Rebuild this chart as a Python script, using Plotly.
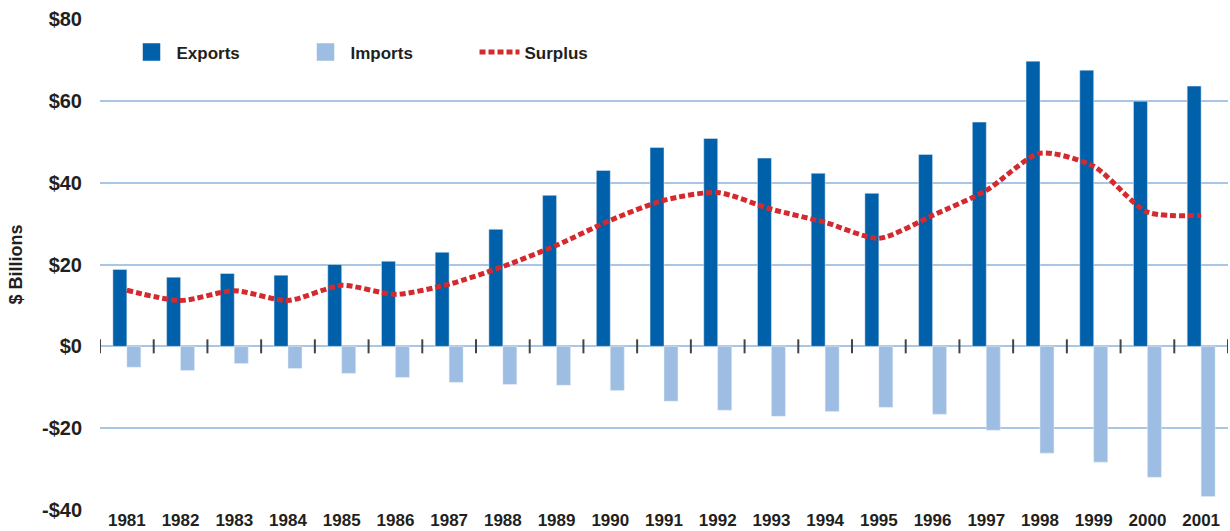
import plotly.graph_objects as go

years = [str(y) for y in range(1981, 2002)]
exports = [18.8, 16.9, 17.8, 17.4, 20.0, 20.8, 23.0, 28.6, 36.9, 43.0, 48.6,
           50.8, 46.0, 42.3, 37.4, 46.9, 54.8, 69.7, 67.5, 59.9, 63.6]
imports = [-5.1, -5.9, -4.2, -5.4, -6.6, -7.6, -8.8, -9.3, -9.5, -10.8, -13.4,
           -15.6, -17.1, -15.9, -14.9, -16.6, -20.5, -26.1, -28.3, -32.0, -36.7]
surplus = [13.7, 11.2, 13.6, 11.2, 14.9, 12.7, 15.2, 19.5, 24.7, 30.8, 35.7,
           37.6, 33.5, 30.3, 26.4, 32.0, 38.1, 47.2, 44.0, 32.8, 32.0]
y_ticks = [-40, -20, 0, 20, 40, 60, 80]
y_tick_text = ["-$40", "-$20", "$0", "$20", "$40", "$60", "$80"]
# category boundaries (between year groups) for the small tick marks on the $0 line
boundaries = [i - 0.5 for i in range(len(years) + 1)]
boundary_y = [0] * len(boundaries)

C_EXP = "#0060aa"
C_IMP = "#9dbde2"
C_SUR = "#d42a2f"
C_GRID = "#a9c6e7"
C_TEXT = "#231f20"
FONT = "Liberation Sans, Arial, sans-serif"

fig = go.Figure()
fig.add_trace(go.Bar(x=years, y=exports, name="Exports", marker_color=C_EXP,
                     showlegend=False))
fig.add_trace(go.Bar(x=years, y=imports, name="Imports", marker_color=C_IMP,
                     showlegend=False))
fig.add_trace(go.Scatter(x=years, y=surplus, name="Surplus", mode="lines",
                         line=dict(color=C_SUR, width=5, dash="6px,3px",
                                   shape="spline", smoothing=0.7),
                         showlegend=False))
# legend entries
fig.add_trace(go.Scatter(x=[None], y=[None], mode="markers", name="Exports",
                         marker=dict(symbol="square", size=16, color=C_EXP,
                                     line=dict(color=C_EXP, width=1.5))))
fig.add_trace(go.Scatter(x=[None], y=[None], mode="markers", name="Imports",
                         marker=dict(symbol="square", size=16, color=C_IMP,
                                     line=dict(color=C_IMP, width=1.5))))
fig.add_trace(go.Scatter(x=[None], y=[None], mode="lines", name="Surplus",
                         line=dict(color=C_SUR, width=5, dash="6px,3px")))
# tick marks on the zero line at category boundaries
fig.add_trace(go.Scatter(x=boundaries, y=boundary_y, xaxis="x2", yaxis="y",
                         mode="markers", showlegend=False, hoverinfo="skip",
                         marker=dict(symbol="line-ns", size=10,
                                     line=dict(color="#444444", width=2))))

fig.update_layout(
    width=1230, height=531,
    margin=dict(l=100, r=2, t=19, b=21, autoexpand=False),
    paper_bgcolor="white", plot_bgcolor="white",
    barmode="group", bargap=0.48, bargroupgap=0,
    font=dict(family=FONT, color=C_TEXT),
    showlegend=True,
    legend=dict(orientation="h", x=0.0235, y=0.932, xanchor="left",
                yanchor="middle", entrywidth=119, entrywidthmode="pixels",
                font=dict(family=FONT, size=17, color=C_TEXT, weight="bold"),
                bgcolor="rgba(0,0,0,0)", itemwidth=40),
    xaxis=dict(type="category", showgrid=False, showline=False, ticks="",
               tickangle=0, automargin=False,
               tickfont=dict(family=FONT, size=17, color=C_TEXT, weight="bold"),
               ticklabelstandoff=-2, fixedrange=True),
    xaxis2=dict(overlaying="x", range=[-0.5, 20.5], visible=False,
                showgrid=False, zeroline=False),
    yaxis=dict(range=[-40, 80], tickvals=y_ticks, ticktext=y_tick_text,
               showgrid=True, gridcolor=C_GRID, gridwidth=2,
               zeroline=True, zerolinecolor=C_GRID, zerolinewidth=2,
               automargin=False, fixedrange=True,
               tickfont=dict(family=FONT, size=20, color=C_TEXT, weight="bold"),
               ticklabelstandoff=17,
               title=dict(text="$ Billions", standoff=14,
                          font=dict(family=FONT, size=18, color=C_TEXT, weight="bold"))),
)

fig.write_html("out.html", config={"displayModeBar": False},
               post_script="document.body.style.margin='0px';document.body.style.overflow='hidden';")
